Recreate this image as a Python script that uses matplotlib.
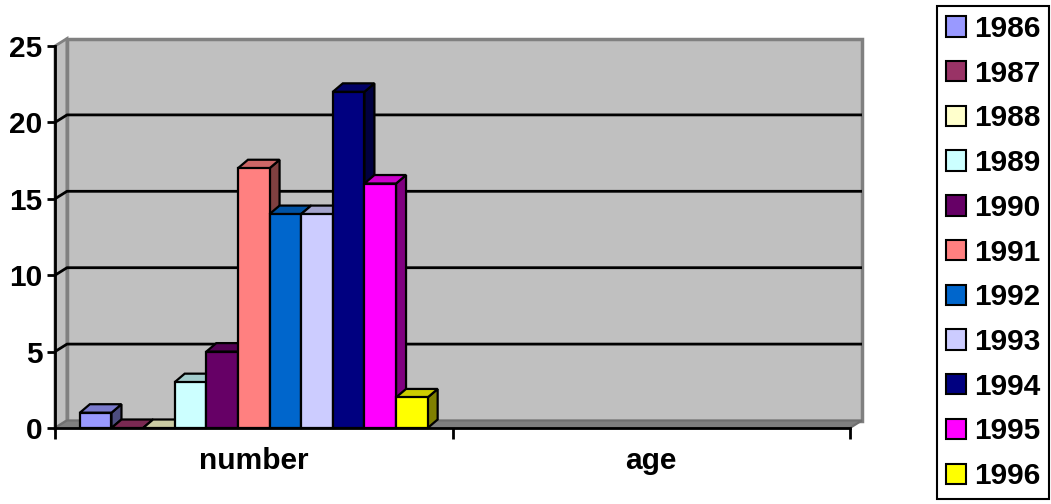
import numpy as np
import matplotlib
matplotlib.use("Agg")
import matplotlib.pyplot as plt
from matplotlib.patches import Polygon, Patch
from matplotlib.colors import to_rgb

# datos
categorias = ["number", "age"]
anios = ["1986", "1987", "1988", "1989", "1990", "1991",
         "1992", "1993", "1994", "1995", "1996"]
valores_number = [1, 0, 0, 3, 5, 17, 14, 14, 22, 16, 2]
valores_age = [np.nan] * 11
colores = ["#9999FF", "#993366", "#FFFFCC", "#CCFFFF", "#660066", "#FF8080",
           "#0066CC", "#CCCCFF", "#000080", "#FF00FF", "#FFFF00"]

plt.rcParams['font.family'] = ['Liberation Sans', 'DejaVu Sans']
plt.rcParams['font.weight'] = 'bold'
fs = 21.5

W, H = 1051, 504
fig = plt.figure(figsize=(W / 100, H / 100), dpi=100)
fig.patch.set_facecolor("white")

# plano frontal en pixeles
x0, x1, y0, y1 = 55, 850, 428, 46
ax = fig.add_axes([x0 / W, (H - y0) / H, (x1 - x0) / W, (y0 - y1) / H])
ymax = 25
ax.set_xlim(0, len(categorias))
ax.set_ylim(0, ymax)
ax.set_facecolor("none")

# profundidad (pared y barras), en unidades de datos
pxx = (x1 - x0) / len(categorias)
pxy = (y0 - y1) / ymax
dxw, dyw = 12 / pxx, 7.5 / pxy
dxb, dyb = 10 / pxx, 8.5 / pxy

nc = len(categorias)
# pared lateral, pared del fondo y piso
ax.add_patch(Polygon([(0, 0), (dxw, dyw), (dxw, ymax + dyw), (0, ymax)],
                     closed=True, fc="#c0c0c0", ec="#808080", lw=2, zorder=1, clip_on=False))
ax.add_patch(Polygon([(dxw, dyw), (nc + dxw, dyw), (nc + dxw, ymax + dyw), (dxw, ymax + dyw)],
                     closed=True, fc="#c0c0c0", ec="#808080", lw=2.5, zorder=1, clip_on=False))
ax.add_patch(Polygon([(0, 0), (nc, 0), (nc + dxw, dyw), (dxw, dyw)],
                     closed=True, fc="#808080", ec="#707070", lw=1.5, zorder=1.5, clip_on=False))

# lineas de division
for g in range(5, ymax, 5):
    ax.plot([0, dxw, nc + dxw], [g, g + dyw, g + dyw], color="black", lw=2,
            zorder=2, clip_on=False, solid_capstyle="butt")

# barras 3D
hueco = 0.125
ancho = (1 - hueco) / len(anios)


def barra(l, v, c):
    c = np.array(to_rgb(c))
    r = l + ancho
    frente = Polygon([(l, 0), (r, 0), (r, v), (l, v)], closed=True)
    techo = Polygon([(l, v), (r, v), (r + dxb, v + dyb), (l + dxb, v + dyb)], closed=True)
    lado = Polygon([(r, 0), (r + dxb, dyb), (r + dxb, v + dyb), (r, v)], closed=True)
    for p, f in [(lado, 0.5), (techo, 0.8), (frente, 1.0)]:
        if p is not frente or v > 0:
            p.set_facecolor(c * f)
            p.set_edgecolor("black")
            p.set_linewidth(1.6)
            p.set_joinstyle("miter")
            p.set_zorder(3)
            p.set_clip_on(False)
            ax.add_patch(p)


for ci, vals in enumerate([valores_number, valores_age]):
    for i, v in enumerate(vals):
        if np.isnan(v):
            continue
        barra(ci + hueco / 2 + i * ancho, v, colores[i])

# ejes
for s in ["top", "right"]:
    ax.spines[s].set_visible(False)
for s in ["left", "bottom"]:
    ax.spines[s].set_linewidth(2)
    ax.spines[s].set_zorder(4)
ax.set_yticks(range(0, ymax + 1, 5))
ax.tick_params(axis="y", length=6, width=2, labelsize=fs, pad=3)
ax.set_xticks(range(nc + 1))
ax.set_xticklabels([])
ax.tick_params(axis="x", which="major", length=8, width=2)
ax.set_xticks([i + 0.5 for i in range(nc)], minor=True)
ax.set_xticklabels(categorias, minor=True, fontsize=fs, fontweight="bold")
ax.tick_params(axis="x", which="minor", length=0, pad=14)

# leyenda
handles = [Patch(fc=c, ec="black", lw=1.5) for c in colores]
leg = fig.legend(handles, anios, loc="upper left",
                 bbox_to_anchor=(937 / W, 1 - 6 / H), frameon=True, fancybox=False,
                 edgecolor="black", framealpha=1, fontsize=fs,
                 handlelength=0.67, handleheight=0.67, handletextpad=0.27,
                 labelspacing=0.56, borderpad=0.3, borderaxespad=0)
leg.get_frame().set_linewidth(1.5)
for t in leg.get_texts():
    t.set_fontweight("bold")

fig.savefig("out.png", dpi=100)
